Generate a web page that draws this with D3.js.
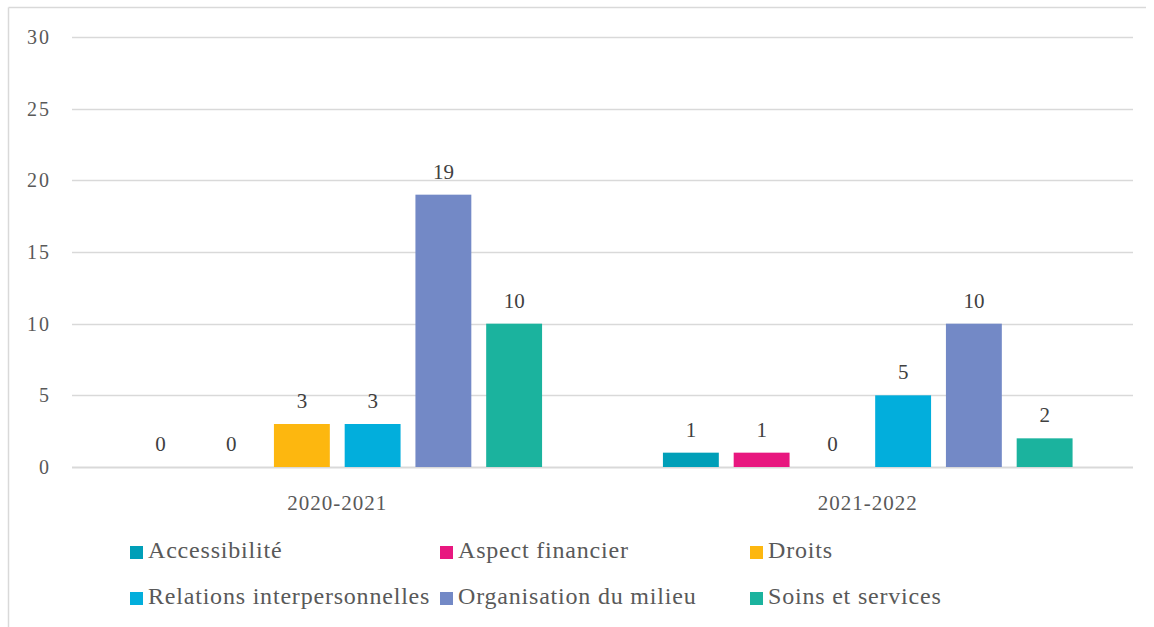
<!DOCTYPE html>
<html><head><meta charset="utf-8">
<script src="https://cdn.jsdelivr.net/npm/d3@7"></script>
<style>
body{margin:0;background:#fff;}
svg{display:block;}
</style></head>
<body><svg id="c" width="1154" height="627"></svg>
<script>
const categories = ["2020-2021", "2021-2022"];
const seriesNames = ["Accessibilité", "Aspect financier", "Droits", "Relations interpersonnelles", "Organisation du milieu", "Soins et services"];
const seriesColors = ["#009fb8", "#e8177f", "#fdb70f", "#02aedc", "#7389c6", "#1bb39e"];
const values2020 = [0, 0, 3, 3, 19, 10];
const values2021 = [1, 1, 0, 5, 10, 2];
const yTicks = [0, 5, 10, 15, 20, 25, 30];

(function () {
const FONT = '"Liberation Serif"';
const data = categories.map((c, i) => ({cat: c, vals: [values2020, values2021][i]}));

const svg = d3.select("#c");
// frame (top and left edges)
svg.append("line").attr("x1", 8.5).attr("x2", 1146).attr("y1", 7.5).attr("y2", 7.5).attr("stroke", "#d9d9d9").attr("stroke-width", 1.5);
svg.append("line").attr("x1", 8.5).attr("x2", 8.5).attr("y1", 7.5).attr("y2", 627).attr("stroke", "#d9d9d9").attr("stroke-width", 1.5);

const pLeft = 72, pRight = 1133, pTop = 37, pBottom = 467;
const y = d3.scaleLinear().domain([0, 30]).range([pBottom, pTop]);
const x0 = d3.scaleBand().domain(categories).range([pLeft, pRight]).padding(0);
const x1 = d3.scaleBand().domain(seriesNames).range([53, x0.bandwidth() - 53]).paddingInner(0.21).paddingOuter(0.105);

// gridlines
svg.append("g").selectAll("line").data(yTicks).join("line")
  .attr("x1", pLeft).attr("x2", pRight)
  .attr("y1", d => Math.round(y(d)) + 0.5).attr("y2", d => Math.round(y(d)) + 0.5)
  .attr("stroke", "#d9d9d9").attr("stroke-width", d => d === 0 ? 2 : 1.3);

// y tick labels
const yAxis = d3.axisLeft(y).tickValues(yTicks).tickSize(0).tickPadding(0);
const ga = svg.append("g").attr("transform", `translate(51,0)`).call(yAxis);
ga.select(".domain").remove();
ga.attr("font-family", null).attr("font-size", null);
ga.selectAll("text").style("font-family", FONT).style("font-size", "20px").style("letter-spacing", "2px")
  .attr("fill", "#595959").attr("dy", "0.33em");

// bars
const groups = svg.append("g").selectAll("g").data(data).join("g")
  .attr("transform", d => `translate(${x0(d.cat)},0)`);
groups.selectAll("rect").data(d => d.vals.map((v, i) => ({name: seriesNames[i], v, i}))).join("rect")
  .attr("x", d => x1(d.name)).attr("width", x1.bandwidth())
  .attr("y", d => y(d.v)).attr("height", d => y(0) - y(d.v))
  .attr("fill", d => seriesColors[d.i]);
groups.selectAll("text").data(d => d.vals.map((v, i) => ({name: seriesNames[i], v, i}))).join("text")
  .attr("x", d => x1(d.name) + x1.bandwidth() / 2)
  .attr("y", d => y(d.v) - 16)
  .attr("text-anchor", "middle").style("font-family", FONT).style("font-size", "21px").attr("fill", "#404040")
  .text(d => d.v);

// x axis labels
const xAxis = d3.axisBottom(x0).tickSize(0).tickPadding(0);
const gx = svg.append("g").attr("transform", `translate(0,510)`).call(xAxis);
gx.select(".domain").remove();
gx.attr("font-family", null).attr("font-size", null);
gx.selectAll("text").style("font-family", FONT).style("font-size", "21px").style("letter-spacing", "1px")
  .attr("fill", "#595959").attr("dy", 0);

// legend
const leg = svg.append("g").selectAll("g").data(seriesNames).join("g")
  .attr("transform", (d, i) => `translate(${130 + (i % 3) * 310},${552 + Math.floor(i / 3) * 46})`);
leg.append("rect").attr("x", 0).attr("y", -6).attr("width", 13).attr("height", 13).attr("fill", (d, i) => seriesColors[i]);
leg.append("text").attr("x", 18).attr("y", 6).style("font-family", FONT).style("font-size", "24px").style("letter-spacing", "0.8px")
  .attr("fill", "#595959").text(d => d);
})();
</script></body></html>
